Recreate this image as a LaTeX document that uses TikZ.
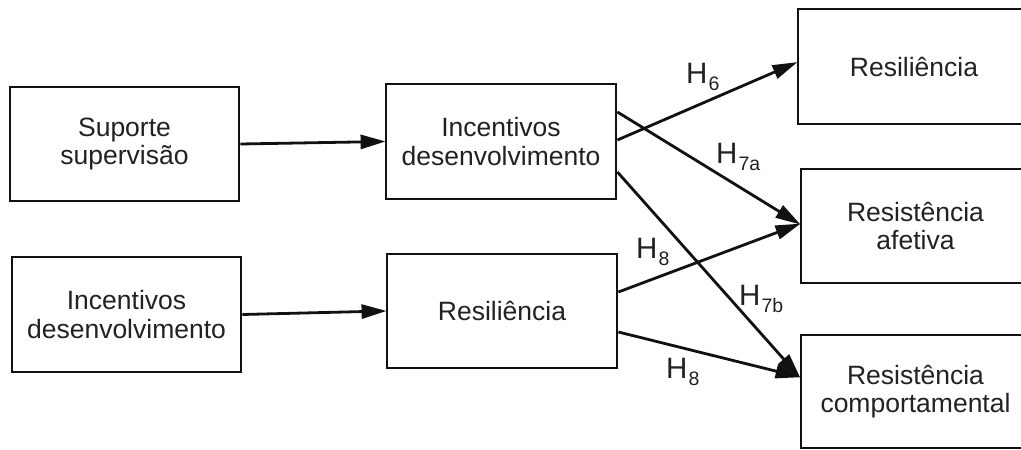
\documentclass[tikz,border=0pt]{standalone}
\usepackage{fontspec}
\setmainfont{Liberation Sans}
\usetikzlibrary{arrows.meta}
\definecolor{ink}{HTML}{111111}
\definecolor{txt}{HTML}{222222}
\newcommand{\hyp}[1]{H\kern1pt\raisebox{-7pt}{\fontsize{19.5}{19.5}\selectfont #1}}
\tikzset{
  box/.style={draw=ink, line width=2.8pt, inner sep=0pt, align=center, text=txt,
    font=\fontsize{26.5}{28.5}\selectfont},
  link/.style={draw=ink, line width=2.8pt, -{Triangle[length=25pt,width=14pt]}, shorten >=-1pt},
  hlab/.style={anchor=base west, inner sep=0pt, text=txt, font=\fontsize{29.5}{29.5}\selectfont}
}
\begin{document}
\begin{tikzpicture}[x=1pt,y=-1pt]
\clip (0,0) rectangle (1021,450);
\fill[white] (0,0) rectangle (1021,450);
\node[box, minimum width=229pt, minimum height=114pt] (ss) at (124.5,144) {Suporte\\supervisão};
\node[box, minimum width=229pt, minimum height=115pt] (il) at (126.5,314.5) {Incentivos\\desenvolvimento};
\node[box, minimum width=230pt, minimum height=115pt] (mt) at (501,141.5) {Incentivos\\desenvolvimento};
\node[box, minimum width=230pt, minimum height=114pt] (mb) at (502,311) {Resiliência};
\node[box, minimum width=232pt, minimum height=115pt] (rt) at (914,66.5) {Resiliência};
\node[box, minimum width=229pt, minimum height=114pt] (ra) at (915.5,226) {Resistência\\afetiva};
\node[box, minimum width=229pt, minimum height=113pt] (rc) at (915.5,391.5) {Resistência\\comportamental};

\draw[link] (ss.east) -- (mt.west);
\draw[link] (il.east) -- (mb.west);
\draw[link] ([yshift=1.5pt]mt.east) -- ([yshift=4pt]rt.west);
\draw[link] ([yshift=29.5pt]mt.east) -- ([yshift=2pt]ra.west);
\draw[link] ([yshift=19pt]mb.east) -- ([yshift=2pt]ra.west);
\draw[link] ([yshift=-30.5pt]mt.east) -- ([yshift=14.5pt]rc.west);
\draw[link] ([yshift=-21pt]mb.east) -- ([yshift=14.5pt]rc.west);

\node[hlab] (h6) at (686,83) {\hyp{6}};
\node[hlab] (h7a) at (716,163) {\hyp{7a}};
\node[hlab] (h8a) at (636,258) {\hyp{8}};
\node[hlab] (h7b) at (739,305) {\hyp{7b}};
\node[hlab] (h8b) at (666,378) {\hyp{8}};
\end{tikzpicture}
\end{document}
